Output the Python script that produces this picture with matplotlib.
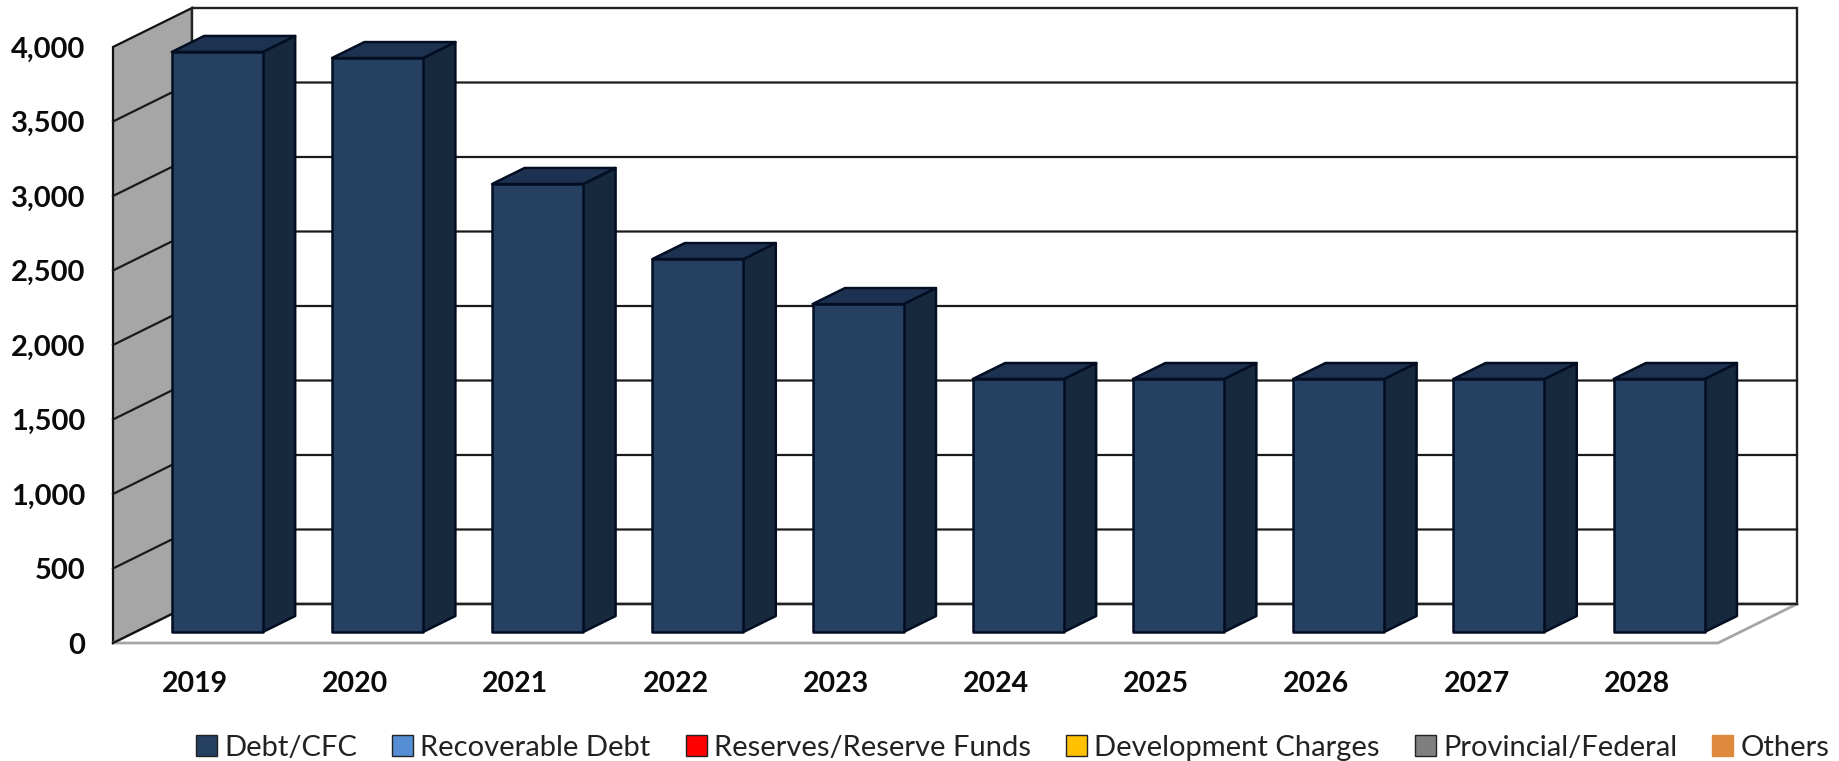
import matplotlib
matplotlib.use("Agg")
import matplotlib.pyplot as plt
from matplotlib.patches import Polygon, Patch

plt.rcParams['font.family'] = ['Lato', 'DejaVu Sans']

years = ['2019', '2020', '2021', '2022', '2023', '2024', '2025', '2026', '2027', '2028']
debt_cfc = [3893, 3852, 3007, 2503, 2201, 1698, 1698, 1698, 1698, 1698]
y_ticks = [0, 500, 1000, 1500, 2000, 2500, 3000, 3500, 4000]
series_names = ['Debt/CFC', 'Recoverable Debt', 'Reserves/Reserve Funds',
                'Development Charges', 'Provincial/Federal', 'Others']
series_colors = ['#254061', '#558ED5', '#FF0000', '#FFC000', '#7F7F7F', '#DD8A3C']

W, H = 1839, 761
fig = plt.figure(figsize=(W / 100, H / 100), dpi=100)
ax = fig.add_axes([113 / W, 1 - 643 / H, (1718 - 113) / W, (643 - 47) / H])
x0, x1 = -0.512, 9.507
ax.set_xlim(x0, x1)
ax.set_ylim(0, 4000)

# Oblique projection: one unit of depth shifts a point right and up
DX = 79 / 160.2
DY = 39 / 0.149


def proj(x, v, d):
    return (x + d * DX, v + d * DY)


def face(points, **kw):
    ax.add_patch(Polygon([proj(*p) for p in points], closed=True, clip_on=False, **kw))


# Walls and floor
face([(x0, 0, 0), (x0, 0, 1), (x0, 4000, 1), (x0, 4000, 0)],
     fc='#A6A6A6', ec='#111111', lw=1.6, zorder=1)
face([(x0, 0, 1), (x1, 0, 1), (x1, 4000, 1), (x0, 4000, 1)],
     fc='white', ec='#222222', lw=1.7, zorder=1)
face([(x0, 0, 0), (x1, 0, 0), (x1, 0, 1), (x0, 0, 1)],
     fc='white', ec='#A6A6A6', lw=2, zorder=1.5)
ax.plot(*zip(proj(x0, 0, 0), proj(x0, 0, 1)), color='#111111', lw=1.6, zorder=2, clip_on=False)
ax.plot(*zip(proj(x0, 0, 1), proj(x1, 0, 1)), color='#222222', lw=1.7, zorder=2, clip_on=False)

# Gridlines run along the side wall and across the back wall
for v in y_ticks[1:-1]:
    pts = [proj(x0, v, 0), proj(x0, v, 1), proj(x1, v, 1)]
    ax.plot(*zip(*pts), color='#1A1A1A', lw=1.6, zorder=2, clip_on=False)

# Columns
half = 91 / 160.2 / 2
d_front, d_back = 0.282, 0.692
edge = dict(ec='#030E22', lw=1.8, joinstyle='round')
for i, v in enumerate(debt_cfc):
    l, r = i - half, i + half
    z = 3 + i * 0.01
    face([(r, 0, d_front), (r, 0, d_back), (r, v, d_back), (r, v, d_front)],
         fc='#17293F', zorder=z, **edge)
    face([(l, v, d_front), (r, v, d_front), (r, v, d_back), (l, v, d_back)],
         fc='#1D3250', zorder=z, **edge)
    face([(l, 0, d_front), (r, 0, d_front), (r, v, d_front), (l, v, d_front)],
         fc=series_colors[0], zorder=z, **edge)

for s in ax.spines.values():
    s.set_visible(False)
ax.patch.set_visible(False)

ax.set_xticks(range(len(years)), years)
ax.set_yticks(y_ticks, [f'{v:,}' for v in y_ticks])
ax.tick_params(axis='x', length=0, pad=20, labelsize=20.5, labelcolor='#0A0A0A')
ax.tick_params(axis='y', length=0, pad=20, labelsize=21, labelcolor='#0A0A0A')
for t in ax.get_xticklabels() + ax.get_yticklabels():
    t.set_fontweight('bold')

handles = [Patch(fc=c, ec='#222222' if c != series_colors[-1] else c, lw=1)
           for c in series_colors]
fig.legend(handles, series_names, ncol=6, loc='lower right',
           bbox_to_anchor=(1838 / W, -0.011), frameon=False, fontsize=21,
           labelcolor='#222222', handlelength=0.72, handleheight=0.72,
           handletextpad=0.25, columnspacing=1.2, borderpad=0.3, borderaxespad=0)

fig.savefig('out.png', dpi=100, facecolor='white')
